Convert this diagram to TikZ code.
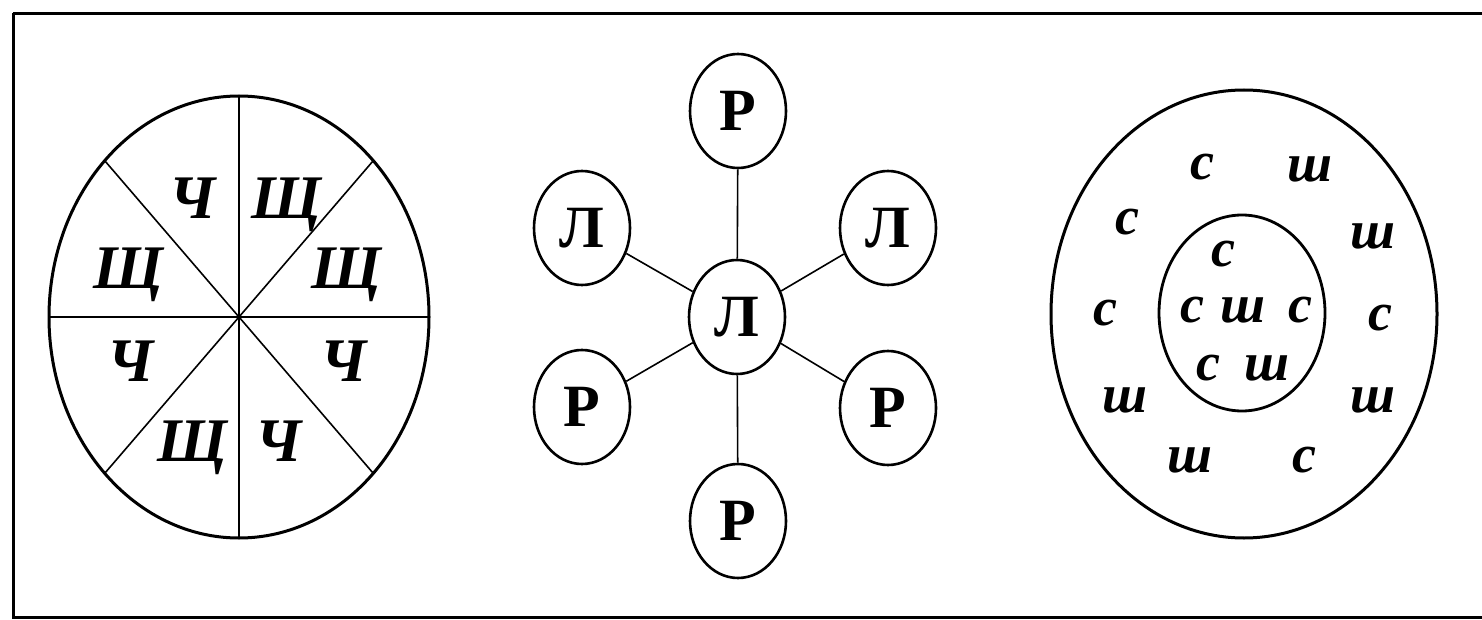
\documentclass[tikz,border=0pt]{standalone}
\usepackage{fontspec}
\setmainfont{Liberation Serif}
\usetikzlibrary{shapes.geometric}
\tikzset{
  heavy/.style={line width=3pt},
  spoke/.style={line width=1.6pt},
  bigit/.style={font=\fontsize{62}{62}\selectfont\bfseries\itshape, inner sep=0pt, anchor=base},
  smallit/.style={font=\fontsize{54}{54}\selectfont\bfseries\itshape, inner sep=0pt, anchor=base},
  letternode/.style={draw, ellipse, line width=2.6pt, minimum width=96pt, minimum height=114pt, inner sep=0pt,
    font=\fontsize{60}{60}\selectfont\bfseries},
  link/.style={line width=1.6pt}
}
\begin{document}
\begin{tikzpicture}[x=1pt,y=-1pt]
\useasboundingbox (0,0) rectangle (1482,620);
\clip (0,0) rectangle (1482,620);
% frame
\draw[heavy] (13,13.5) -- (1500,13.5);
\draw[heavy] (13,13.5) -- (13,617) -- (1500,617);
% ---- left wheel ----
\coordinate (wc) at (239,317);
\draw[heavy] (wc) ellipse [x radius=190pt, y radius=221pt];
\coordinate (wt) at (239,96);
\coordinate (wb) at (239,538);
\coordinate (wl) at (49,317);
\coordinate (wr) at (429,317);
\coordinate (wul) at (105,161);
\coordinate (wur) at (373,161);
\coordinate (wll) at (105,473);
\coordinate (wlr) at (373,473);
\draw[spoke] (wt) -- (wb);
\draw[spoke] (wl) -- (wr);
\draw[spoke] (wul) -- (wlr);
\draw[spoke] (wur) -- (wll);
\fill (wc) circle [radius=2.5pt];
\node[bigit] (l1) at (193,219) {Ч};
\node[bigit] (l2) at (286,219) {Щ};
\node[bigit] (l3) at (128,288) {Щ};
\node[bigit] (l4) at (346,288) {Щ};
\node[bigit] (l5) at (131,381) {Ч};
\node[bigit] (l6) at (344,381) {Ч};
\node[bigit] (l7) at (192,461) {Щ};
\node[bigit] (l8) at (279,461) {Ч};
% ---- middle star ----
\node[letternode] (mc) at (737,317) {Л};
\node[letternode] (mt) at (738,111) {Р};
\node[letternode] (mb) at (738,521) {Р};
\node[letternode] (mul) at (582,228) {Л};
\node[letternode] (mur) at (888,228) {Л};
\node[letternode] (mll) at (582,407) {Р};
\node[letternode] (mlr) at (888,408) {Р};
\draw[link] (mc) -- (mt);
\draw[link] (mc) -- (mb);
\draw[link] (mc) -- (mul);
\draw[link] (mc) -- (mur);
\draw[link] (mc) -- (mll);
\draw[link] (mc) -- (mlr);
% ---- right rings ----
\draw[heavy] (1244,314) ellipse [x radius=193pt, y radius=224pt];
\draw[line width=2.8pt] (1242,313) ellipse [x radius=83pt, y radius=98pt];
\node[smallit] (o1) at (1202,180) {с};
\node[smallit] (o2) at (1310,182) {ш};
\node[smallit] (o3) at (1127,235) {с};
\node[smallit] (o4) at (1373,248) {ш};
\node[smallit] (o5) at (1105,325) {с};
\node[smallit] (o6) at (1380,330) {с};
\node[smallit] (o7) at (1125,412) {ш};
\node[smallit] (o8) at (1373,412) {ш};
\node[smallit] (o9) at (1190,472) {ш};
\node[smallit] (o10) at (1304,472) {с};
\node[smallit] (i1) at (1223,266) {с};
\node[smallit] (i2) at (1192,322) {с};
\node[smallit] (i3) at (1243,322) {ш};
\node[smallit] (i4) at (1300,322) {с};
\node[smallit] (i5) at (1208,380) {с};
\node[smallit] (i6) at (1267,380) {ш};
\end{tikzpicture}
\end{document}
